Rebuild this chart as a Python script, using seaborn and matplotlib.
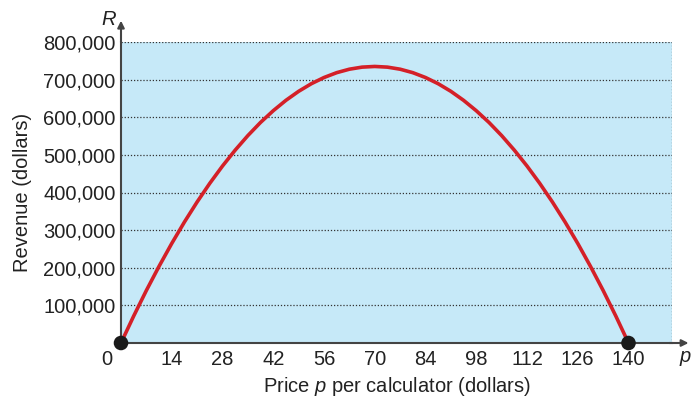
import numpy as np
import pandas as pd
import seaborn as sns
import matplotlib.pyplot as plt

# price per calculator (dollars) and revenue
price = [0, 3.5, 7, 10.5, 14, 17.5, 21, 24.5, 28, 31.5, 35, 38.5, 42, 45.5, 49, 52.5,
         56, 59.5, 63, 66.5, 70, 73.5, 77, 80.5, 84, 87.5, 91, 94.5, 98, 101.5,
         105, 108.5, 112, 115.5, 119, 122.5, 126, 129.5, 133, 136.5, 140]
revenue = [0, 71700, 139700, 203900, 264600, 321600, 374900, 424500, 470400, 512600,
           551300, 586300, 617400, 645000, 668900, 689100, 705600, 718500, 727700, 733200,
           735000, 733200, 727700, 718500, 705600, 689100, 668900, 645000, 617400, 586300,
           551300, 512600, 470400, 424500, 374900, 321600, 264600, 203900, 139700, 71700, 0]
end_price = [0, 140]
end_revenue = [0, 0]
x_ticks = [14, 28, 42, 56, 70, 84, 98, 112, 126, 140]
y_ticks = [100000, 200000, 300000, 400000, 500000, 600000, 700000, 800000]

sns.set_style("white")
plt.rcParams['font.family'] = ['Liberation Sans', 'DejaVu Sans']
plt.rcParams['mathtext.fontset'] = 'custom'
plt.rcParams['mathtext.it'] = 'Liberation Sans:italic'
plt.rcParams['mathtext.rm'] = 'Liberation Sans'

df = pd.DataFrame({"price": price, "revenue": revenue})
fs = 14.5
tc = "#222222"

fig = plt.figure(figsize=(6.95, 3.97), dpi=100)
ax = fig.add_axes([121 / 695, 1 - 343 / 397, (672 - 121) / 695, (343 - 42) / 397])
ax.set_facecolor("#c6e9f8")

for y in y_ticks:
    ax.axhline(y, color="#333333", linestyle=(0, (1, 1.5)), linewidth=0.9, zorder=1)
ax.axvline(152, color="#333333", linestyle=(0, (1, 1.5)), linewidth=0.9, zorder=1)

sns.lineplot(data=df, x="price", y="revenue", color="#d42028", linewidth=2.6, ax=ax,
             zorder=3, solid_joinstyle="round")
sns.scatterplot(x=end_price, y=end_revenue, color="#1a1a1a", s=110, ax=ax, zorder=4,
                clip_on=False, edgecolor="none")

ax.set_xlim(0, 152)
ax.set_ylim(0, 800000)
ax.set_xticks(x_ticks)
ax.set_xticklabels([str(t) for t in x_ticks])
ax.set_yticks(y_ticks)
ax.set_yticklabels([f"{t:,}" for t in y_ticks])
ax.tick_params(axis="x", direction="in", length=7, width=1.2, color="#333333",
               labelsize=fs, pad=5, labelcolor=tc)
ax.tick_params(axis="y", length=0, labelsize=fs, pad=4, labelcolor=tc)

for s in ["top", "right"]:
    ax.spines[s].set_visible(False)
for s in ["left", "bottom"]:
    ax.spines[s].set_color("#444444")
    ax.spines[s].set_linewidth(1.5)

# axis arrows
ax.annotate("", xy=(1.035, 0), xytext=(0.99, 0), xycoords="axes fraction",
            arrowprops=dict(arrowstyle="-|>", color="#444444", lw=1.5, mutation_scale=10),
            annotation_clip=False)
ax.annotate("", xy=(0, 1.08), xytext=(0, 0.99), xycoords="axes fraction",
            arrowprops=dict(arrowstyle="-|>", color="#444444", lw=1.5, mutation_scale=10),
            annotation_clip=False)
ax.text(-0.008, 1.075, "$\\it{R}$", transform=ax.transAxes, ha="right", va="center",
        fontsize=fs, color=tc)
ax.text(1.012, -0.05, "$\\it{p}$", transform=ax.transAxes, ha="left", va="center",
        fontsize=fs, color=tc)
ax.annotate("0", xy=(-4, 0), xytext=(0, -5), textcoords="offset points",
            ha="center", va="top", fontsize=fs, color=tc, annotation_clip=False)

ax.set_xlabel("Price $\\it{p}$ per calculator (dollars)", fontsize=fs, color=tc, labelpad=4)
ax.set_ylabel("Revenue (dollars)", fontsize=fs, color=tc, labelpad=8)

fig.savefig("out.png", dpi=100)
